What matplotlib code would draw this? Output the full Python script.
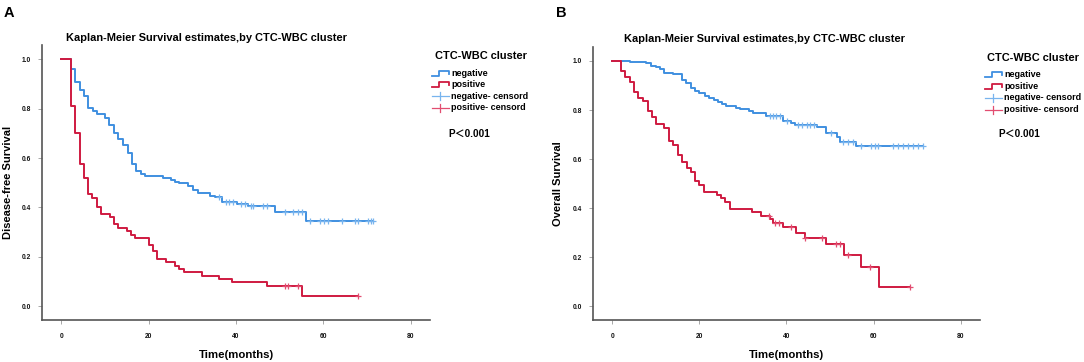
import numpy as np
import matplotlib
matplotlib.use("Agg")
import matplotlib.pyplot as plt
from matplotlib.lines import Line2D

W, H, DPI = 1084, 362, 100
FONT = ["Liberation Sans", "DejaVu Sans"]
plt.rcParams["font.family"] = FONT
plt.rcParams["font.weight"] = "bold"

# ---------------- data ----------------
groups = ["negative", "positive"]
legend_labels = ["negative", "positive", "negative- censord", "positive- censord"]
x_ticks = [0, 20, 40, 60, 80]
y_ticks = [0.0, 0.2, 0.4, 0.6, 0.8, 1.0]

# Panel A: disease-free survival
dfs_neg_t = [0, 2.2, 3.1, 4.2, 5.2, 6.2, 7.2, 8.2, 10.1, 11.0, 12.1, 13.1, 14.1, 15.2, 16.2, 17.1,
             18.2, 19.2, 23.2, 25.1, 26.1, 27.0, 29.1, 30.1, 31.2, 34.1, 35.2, 36.9, 40.3, 42.8, 49.0, 56.0]
dfs_neg_s = [1.0, 0.96, 0.908, 0.875, 0.852, 0.803, 0.79, 0.777, 0.76, 0.733, 0.70, 0.676, 0.653, 0.619,
             0.576, 0.549, 0.536, 0.528, 0.521, 0.511, 0.504, 0.497, 0.487, 0.471, 0.458, 0.448, 0.442,
             0.421, 0.413, 0.404, 0.38, 0.346]
dfs_neg_cens = [36.1, 37.7, 38.5, 39.3, 41.2, 42.1, 43.4, 44.0, 46.2, 47.1, 51.2, 53.1, 54.1, 55.0,
                56.9, 59.2, 60.1, 61.1, 64.2, 67.2, 68.0, 70.3, 71.0, 71.4]
dfs_neg_end = 71.4

dfs_pos_t = [0, 2.2, 3.1, 4.2, 5.2, 6.1, 7.0, 8.2, 9.1, 11.2, 12.1, 13.1, 15.0, 16.0, 16.9, 20.0,
             21.0, 21.9, 23.9, 26.1, 27.0, 28.0, 32.2, 36.0, 39.0, 47.0, 55.0]
dfs_pos_s = [1.0, 0.81, 0.70, 0.576, 0.52, 0.455, 0.44, 0.40, 0.373, 0.36, 0.333, 0.316, 0.303, 0.29,
             0.276, 0.249, 0.225, 0.193, 0.179, 0.164, 0.151, 0.139, 0.124, 0.11, 0.098, 0.084, 0.042]
dfs_pos_cens = [51.2, 52.0, 54.1, 68.0]
dfs_pos_end = 68.0

# Panel B: overall survival
os_neg_t = [0, 4.0, 7.8, 9.0, 10.1, 11.0, 12.0, 13.9, 16.1, 17.0, 18.1, 19.1, 20.0, 21.2, 22.2, 23.3,
            24.3, 25.3, 26.2, 28.3, 29.4, 31.4, 32.4, 35.2, 39.1, 41.0, 42.0, 47.0, 49.1, 51.7, 52.2, 56.0]
os_neg_s = [1.0, 0.997, 0.99, 0.981, 0.974, 0.967, 0.952, 0.947, 0.923, 0.909, 0.889, 0.879, 0.868,
            0.859, 0.851, 0.841, 0.832, 0.825, 0.817, 0.81, 0.803, 0.796, 0.79, 0.776, 0.757, 0.748,
            0.741, 0.733, 0.708, 0.692, 0.672, 0.654]
os_neg_cens = [36.1, 37.0, 37.7, 38.5, 40.2, 42.6, 43.6, 44.6, 45.5, 46.3, 50.2, 52.9, 54.1, 55.2,
               57.2, 59.5, 60.2, 61.0, 64.4, 65.6, 66.7, 67.9, 69.0, 70.2, 71.3]
os_neg_end = 71.3

os_pos_t = [0, 2.1, 3.0, 4.0, 5.0, 6.0, 7.0, 8.2, 9.1, 10.1, 12.0, 13.0, 13.9, 15.1, 16.1, 17.1, 18.1,
            19.1, 20.0, 21.0, 24.1, 25.0, 26.0, 27.1, 32.1, 34.2, 36.1, 36.9, 39.1, 42.1, 44.2, 49.1,
            53.2, 57.2, 61.2]
os_pos_s = [1.0, 0.96, 0.936, 0.916, 0.875, 0.851, 0.838, 0.796, 0.773, 0.742, 0.729, 0.676, 0.658,
            0.617, 0.59, 0.563, 0.549, 0.512, 0.495, 0.466, 0.455, 0.441, 0.427, 0.398, 0.384, 0.37,
            0.357, 0.342, 0.323, 0.301, 0.281, 0.254, 0.21, 0.159, 0.079]
os_pos_cens = [36.0, 37.3, 38.3, 41.1, 44.2, 48.2, 51.3, 52.2, 54.1, 59.1, 68.3]
os_pos_end = 68.3

# ---------------- styling ----------------
COL_LINE = {"negative": "#3f8fe0", "positive": "#cf1a40"}
COL_CENS = {"negative": "#78b4ee", "positive": "#e24d70"}

fig = plt.figure(figsize=(W / DPI, H / DPI), dpi=DPI)
fig.patch.set_facecolor("white")


def fx(px):
    return px / W


def fy(py):
    return 1 - py / H


def draw_panel(left, right, top, bottom, curves, ylabel, ylabel_x):
    ax = fig.add_axes([fx(left), fy(bottom), fx(right) - fx(left), fy(top) - fy(bottom)])
    for name, t, s, cens, end in curves:
        t = np.asarray(t, float)
        s = np.asarray(s, float)
        xs = np.append(t, end)
        ys = np.append(s, s[-1])
        ax.step(xs, ys, where="post", color=COL_LINE[name], lw=1.4, zorder=3)
        c = np.asarray(cens, float)
        idx = np.searchsorted(t, c, side="right") - 1
        ax.plot(c, s[idx], ls="none", marker="+", ms=5, mew=0.9,
                color=COL_CENS[name], zorder=4)
    ax.set_xlim(-4.4, 84.4)
    ax.set_ylim(-0.055, 1.057)
    ax.set_xticks(x_ticks)
    ax.set_yticks(y_ticks)
    ax.set_yticklabels([f"{v:.1f}" for v in y_ticks])
    for sp in ["top", "right"]:
        ax.spines[sp].set_visible(False)
    for sp in ["left", "bottom"]:
        ax.spines[sp].set_color("#555555")
        ax.spines[sp].set_linewidth(1.2)
    ax.tick_params(axis="both", length=3, width=0.6, color="#999999",
                   labelsize=4.8, labelcolor="#111111")
    ax.tick_params(axis="x", pad=6)
    ax.tick_params(axis="y", pad=5)
    for lab in ax.get_xticklabels() + ax.get_yticklabels():
        lab.set_fontweight("bold")
    ax.set_xlabel("Time(months)", fontsize=8.2, fontweight="bold", labelpad=7.5)
    ax.set_ylabel(ylabel, fontsize=8.0, fontweight="bold")
    ax.yaxis.set_label_coords((ylabel_x - left) / (right - left), 0.5)
    ax.yaxis.label.set_verticalalignment("center")
    return ax


def draw_legend(x_title, y_title, x_handle, x_text, rows_y, x_p, y_p):
    fig.text(fx(x_title), fy(y_title), "CTC-WBC cluster", fontsize=7.9,
             fontweight="bold", ha="left", va="center")
    kinds = [("line", "negative"), ("line", "positive"),
             ("cens", "negative"), ("cens", "positive")]
    for (kind, name), label, yc in zip(kinds, legend_labels, rows_y):
        hw = 17
        if kind == "line":
            xs = [x_handle, x_handle + 7, x_handle + 7, x_handle + hw, x_handle + hw]
            ys = [yc + 2.5, yc + 2.5, yc - 2.5, yc - 2.5, yc + 0.5]
            fig.add_artist(Line2D([fx(v) for v in xs], [fy(v) for v in ys],
                                  transform=fig.transFigure, color=COL_LINE[name], lw=1.3))
        else:
            fig.add_artist(Line2D([fx(x_handle), fx(x_handle + hw)], [fy(yc), fy(yc)],
                                  transform=fig.transFigure, color=COL_CENS[name], lw=0.9))
            fig.add_artist(Line2D([fx(x_handle + 8), fx(x_handle + 8)], [fy(yc - 4), fy(yc + 4)],
                                  transform=fig.transFigure, color=COL_CENS[name], lw=0.9))
        fig.text(fx(x_text), fy(yc), label, fontsize=6.5, fontweight="bold",
                 ha="left", va="center")
    fig.text(fx(x_p), fy(y_p), "P＜0.001", fontsize=7.2, fontweight="bold",
             ha="left", va="center", family=["Liberation Sans", "Noto Sans CJK SC", "DejaVu Sans"])


TITLE = "Kaplan-Meier Survival estimates,by CTC-WBC cluster"

# Panel A
draw_panel(42, 430, 45, 320,
           [("negative", dfs_neg_t, dfs_neg_s, dfs_neg_cens, dfs_neg_end),
            ("positive", dfs_pos_t, dfs_pos_s, dfs_pos_cens, dfs_pos_end)],
           "Disease-free Survival", 8)
fig.text(fx(206), fy(38), TITLE, fontsize=7.9, fontweight="bold", ha="center", va="center")
fig.text(fx(4), fy(13), "A", fontsize=10.5, fontweight="bold", ha="left", va="center")
draw_legend(435, 56, 432, 451, [73.3, 84.5, 96.2, 107.8], 448, 134)

# Panel B
draw_panel(593, 980, 47, 320,
           [("negative", os_neg_t, os_neg_s, os_neg_cens, os_neg_end),
            ("positive", os_pos_t, os_pos_s, os_pos_cens, os_pos_end)],
           "Overall Survival", 558)
fig.text(fx(764.5), fy(39), TITLE, fontsize=7.9, fontweight="bold", ha="center", va="center")
fig.text(fx(556), fy(13), "B", fontsize=10.5, fontweight="bold", ha="left", va="center")
draw_legend(987, 58, 985, 1004.5, [74.5, 86.2, 97.8, 110], 998, 134)

fig.savefig("out.png", dpi=DPI, facecolor="white")
